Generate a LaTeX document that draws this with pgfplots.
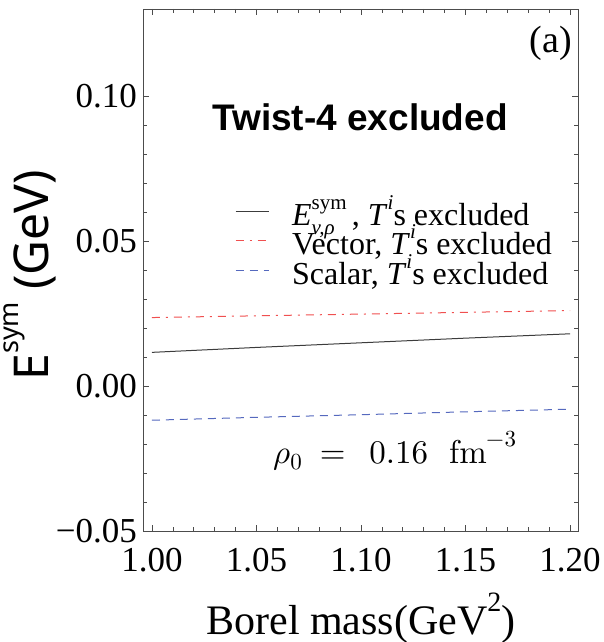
\documentclass[border=0pt]{standalone}
\usepackage{fontspec}
\setmainfont{Liberation Serif}
\newfontfamily\sansfont{Noto Sans}
\newfontfamily\sansbold{Liberation Sans Bold}
\newfontfamily\lmr{lmroman10-regular.otf}
\newfontfamily\lmm{latinmodern-math.otf}
\usepackage{pgfplots}
\pgfplotsset{compat=1.18}
\definecolor{redline}{RGB}{240,80,80}
\definecolor{blueline}{RGB}{85,105,190}
\definecolor{blackline}{RGB}{60,60,60}
\newcommand{\sups}[1]{\raisebox{0.5em}{\fontsize{21}{21}\selectfont #1}}
\begin{document}
\begin{tikzpicture}
\path[use as bounding box] (0,0) rectangle (604pt,642pt);
\begin{axis}[
  at={(143pt,111pt)}, anchor=south west,
  scale only axis, width=435pt, height=522pt,
  xmin=0.9957, xmax=1.2038, ymin=-0.05, ymax=0.130,
  xtick={1,1.05,1.1,1.15,1.2},
  xticklabels={1.00,1.05,1.10,1.15,1.20},
  ytick={-0.05,0,0.05,0.1},
  yticklabels={−0.05,0.00,0.05,0.10},
  minor x tick num=4, minor y tick num=4,
  tick align=inside, xtick pos=both, ytick pos=both,
  xticklabel pos=left, yticklabel pos=left,
  major tick length=6pt, minor tick length=4pt,
  axis line style={black!70, line width=0.8pt},
  every tick/.style={black!70, line width=0.7pt},
  tick label style={font=\fontsize{35}{35}\selectfont, inner sep=0pt},
  yticklabel style={xshift=-6pt},
  xticklabel style={yshift=-17pt},
  xlabel={Borel mass(GeV\raisebox{0.55em}{\fontsize{28}{28}\selectfont 2})},
  xlabel style={at={(axis description cs:0.501,-0.199)}, anchor=base, inner sep=0pt, font=\fontsize{42}{42}\selectfont},
  ylabel={\sansfont E\raisebox{0.62em}{\fontsize{27}{27}\selectfont sym} (GeV)},
  ylabel style={at={(axis description cs:-0.218,0.49)}, anchor=base, rotate=0, inner sep=0pt, font=\fontsize{48}{48}\selectfont},
  legend cell align=left,
  legend style={at={(axis description cs:0.2115,0.626)}, anchor=north west,
    draw=none, fill=none, inner sep=0pt, row sep=0pt,
    font=\fontsize{32}{32}\selectfont,
    nodes={inner sep=0pt, text height=21pt, text depth=8.5pt},
    /tikz/every odd column/.append style={column sep=23pt}},
]
\addlegendimage{legend image code/.code={\draw[draw=blackline, line width=0.9pt] (0pt,8pt) -- (33pt,8pt);}}
\addlegendentry{\textit{E}\rlap{\raisebox{-0.28em}{\fontsize{21}{21}\selectfont\textit{v,ρ}}}\sups{sym}\,, \textit{T}\sups{\textit{i}}s excluded}
\addlegendimage{legend image code/.code={\draw[draw=redline, line width=0.9pt, dash pattern=on 8pt off 6pt on 2pt off 6pt] (0pt,8pt) -- (33pt,8pt);}}
\addlegendentry{Vector, \textit{T}\sups{\textit{i}}s excluded}
\addlegendimage{legend image code/.code={\draw[draw=blueline, line width=0.9pt, dash pattern=on 8pt off 6pt] (0pt,8pt) -- (33pt,8pt);}}
\addlegendentry{Scalar, \textit{T}\sups{\textit{i}}s excluded}
\addplot[forget plot, color=blackline, line width=1pt] coordinates {(1.00,0.0116) (1.05,0.0133) (1.10,0.0149) (1.15,0.0165) (1.20,0.0180)};
\addplot[forget plot, color=redline, line width=1pt, dash pattern=on 8pt off 6pt on 2pt off 6pt] coordinates {(1.00,0.0236) (1.05,0.0242) (1.10,0.0248) (1.15,0.0254) (1.20,0.0260)};
\addplot[forget plot, color=blueline, line width=1pt, dash pattern=on 8pt off 6pt] coordinates {(1.00,-0.0118) (1.05,-0.0108) (1.10,-0.0099) (1.15,-0.0089) (1.20,-0.0080)};
\node[anchor=base, inner sep=0pt, font=\sansbold\fontsize{37}{37}\selectfont] at (rel axis cs:0.499,0.768) {Twist-4 excluded};
\node[anchor=base east, inner sep=0pt, font=\fontsize{38}{38}\selectfont] at (rel axis cs:0.986,0.916) {(a)};
\node[anchor=base west, inner sep=0pt, font=\fontsize{33}{33}\selectfont] at (rel axis cs:0.299,0.130) {{\lmm 𝜌}\raisebox{-0.2em}{\fontsize{23}{23}\selectfont\lmr 0}\hspace{18pt}{\lmr =}\hspace{24pt}{\lmr 0.16}\hspace{21pt}{\lmr fm}\raisebox{0.5em}{\fontsize{23}{23}\selectfont{\lmm −}{\lmr 3}}};
\end{axis}
\end{tikzpicture}
\end{document}
